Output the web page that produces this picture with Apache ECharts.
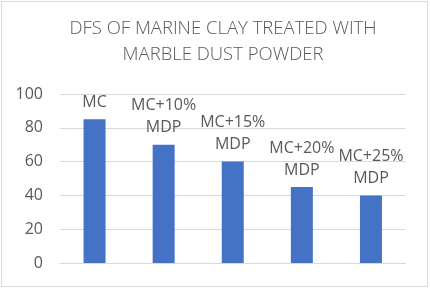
<!DOCTYPE html>
<html><head><meta charset="utf-8">
<script src="https://cdn.jsdelivr.net/npm/echarts@6/dist/echarts.min.js"></script>
<style>html,body{margin:0;padding:0;background:#fff}#c{width:430px;height:288px}</style>
</head><body><div id="c"></div>
<script>
const categories = ['MC', 'MC+10%\nMDP', 'MC+15%\nMDP', 'MC+20%\nMDP', 'MC+25%\nMDP'];
const values = [85, 70, 60, 45, 40];
const yTicks = [0, 20, 40, 60, 80, 100];

const chart = echarts.init(document.getElementById('c'), null, {renderer: 'canvas'});
const font = '"Open Sans", "DejaVu Sans", sans-serif';
chart.setOption({
  animation: false,
  backgroundColor: '#fff',
  graphic: [{
    type: 'rect', shape: {x: 1.5, y: 1.5, width: 426, height: 285},
    style: {fill: 'none', stroke: '#d9d9d9', lineWidth: 1}, silent: true, z: 0
  }],
  title: {
    text: 'DFS OF MARINE CLAY TREATED WITH\nMARBLE DUST POWDER',
    left: 218, top: 11, textAlign: 'center',
    textStyle: {fontFamily: font, fontSize: 18.5, fontWeight: 300, color: '#595959', lineHeight: 26}
  },
  grid: {left: 60, right: 24.5, top: 94, bottom: 25, containLabel: false},
  xAxis: {
    type: 'category', data: categories,
    axisLine: {show: true, lineStyle: {color: '#d9d9d9'}},
    axisTick: {show: false}, axisLabel: {show: false}
  },
  yAxis: {
    type: 'value', min: yTicks[0], max: yTicks[yTicks.length - 1], interval: 20,
    axisLine: {show: false}, axisTick: {show: false},
    axisLabel: {fontFamily: font, fontSize: 16, color: '#595959', margin: 17},
    splitLine: {lineStyle: {color: '#d9d9d9', width: 1}}
  },
  series: [{
    type: 'bar', data: values, barWidth: 22,
    itemStyle: {color: '#4472C4'},
    label: {
      show: true, position: 'top', distance: 6,
      formatter: p => p.name,
      fontFamily: font, fontSize: 16, color: '#595959', lineHeight: 22, align: 'center'
    }
  }]
});
</script></body></html>
